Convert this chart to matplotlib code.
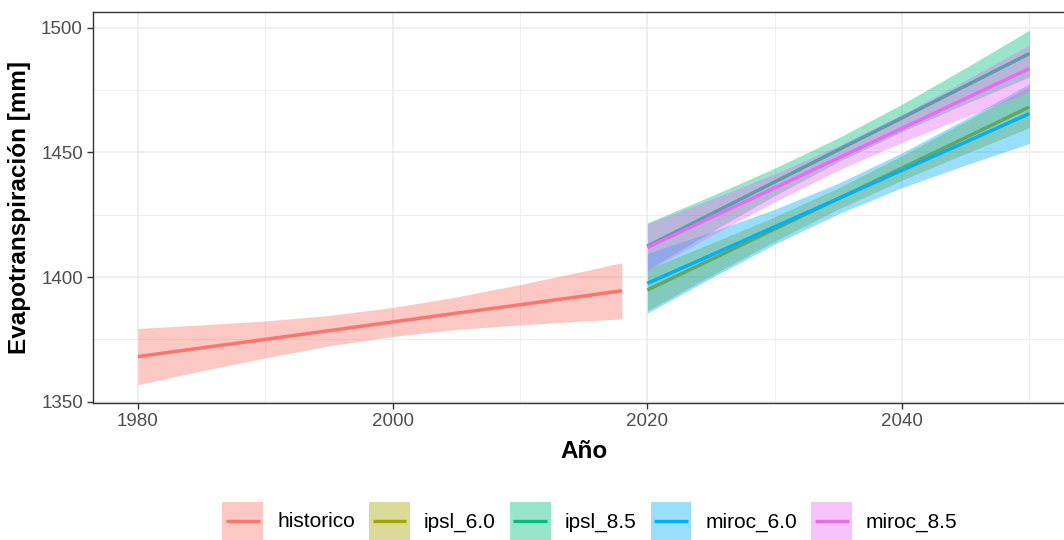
import matplotlib
matplotlib.use("Agg")
import matplotlib.pyplot as plt
from matplotlib.patches import Patch, Rectangle
from matplotlib.lines import Line2D
from matplotlib.legend_handler import HandlerBase
from matplotlib.ticker import MultipleLocator

plt.rcParams['font.family'] = ['Liberation Sans', 'DejaVu Sans']

# data (fit line and confidence band of each series)
years_hist = [1980, 1985, 1990, 1995, 2000, 2005, 2010, 2015, 2018]
hist_fit = [1368.1, 1371.6, 1375.0, 1378.5, 1382.0, 1385.5, 1388.9, 1392.4, 1394.5]
hist_lo = [1356.8, 1362.4, 1367.6, 1372.4, 1376.2, 1379.0, 1380.8, 1382.4, 1383.2]
hist_hi = [1379.4, 1380.8, 1382.4, 1384.6, 1387.8, 1392.0, 1397.0, 1402.4, 1405.8]

years_fut = [2020, 2025, 2030, 2035, 2040, 2045, 2050]
ipsl60_fit = [1394.8, 1407.0, 1419.3, 1431.5, 1443.8, 1456.0, 1468.3]
ipsl60_lo = [1386.5, 1400.6, 1414.4, 1427.3, 1438.9, 1449.6, 1460.0]
ipsl60_hi = [1403.1, 1413.5, 1424.2, 1435.8, 1448.7, 1462.5, 1476.6]

ipsl85_fit = [1412.4, 1425.3, 1438.2, 1451.1, 1463.9, 1476.8, 1489.7]
ipsl85_lo = [1403.0, 1418.1, 1432.7, 1446.3, 1458.4, 1469.6, 1480.3]
ipsl85_hi = [1421.8, 1432.5, 1443.7, 1455.9, 1469.4, 1484.0, 1499.1]

miroc60_fit = [1397.5, 1408.8, 1420.2, 1431.5, 1442.9, 1454.2, 1465.6]
miroc60_lo = [1385.5, 1399.6, 1413.2, 1425.4, 1435.9, 1445.0, 1453.6]
miroc60_hi = [1409.5, 1418.1, 1427.2, 1437.7, 1449.9, 1463.5, 1477.6]

miroc85_fit = [1411.9, 1423.9, 1435.8, 1447.8, 1459.7, 1471.7, 1483.7]
miroc85_lo = [1402.4, 1416.6, 1430.2, 1442.9, 1454.1, 1464.4, 1474.2]
miroc85_hi = [1421.4, 1431.2, 1441.4, 1452.7, 1465.3, 1479.0, 1493.2]

labels = ["historico", "ipsl_6.0", "ipsl_8.5", "miroc_6.0", "miroc_8.5"]
colors = ["#F8766D", "#A3A500", "#00BF7D", "#00B0F6", "#E76BF3"]

series = [
    (years_hist, hist_fit, hist_lo, hist_hi),
    (years_fut, ipsl60_fit, ipsl60_lo, ipsl60_hi),
    (years_fut, ipsl85_fit, ipsl85_lo, ipsl85_hi),
    (years_fut, miroc60_fit, miroc60_lo, miroc60_hi),
    (years_fut, miroc85_fit, miroc85_lo, miroc85_hi),
]


class KeyHandler(HandlerBase):
    # filled key box with a short line across its middle
    def create_artists(self, legend, orig_handle, xdescent, ydescent,
                       width, height, fontsize, trans):
        c = orig_handle.get_facecolor()[:3]
        box = Rectangle((-xdescent, -ydescent), width, height, facecolor=c,
                        alpha=0.4, lw=0, transform=trans)
        y = -ydescent + height / 2
        line = Line2D([-xdescent + 2.5, -xdescent + width - 2.5], [y, y],
                      color=c, lw=2.4, solid_capstyle='butt', transform=trans)
        return [box, line]


fig = plt.figure(figsize=(10.64, 5.4), dpi=100)
ax = fig.add_axes([93.3 / 1064, 1 - 402.7 / 540, (1074 - 93.3) / 1064, (402.7 - 11.7) / 540])

# ribbon then line, group by group (like geom_smooth)
for (x, fit, lo, hi), c in zip(series, colors):
    ax.fill_between(x, lo, hi, color=c, alpha=0.4, lw=0, zorder=2)
    ax.plot(x, fit, color=c, lw=2.5, zorder=2, solid_capstyle='butt')

ax.set_xlim(1976.5, 2053.5)
ax.set_ylim(1349.6, 1506.5)
ax.xaxis.set_major_locator(MultipleLocator(20))
ax.xaxis.set_minor_locator(MultipleLocator(10))
ax.yaxis.set_major_locator(MultipleLocator(50))
ax.yaxis.set_minor_locator(MultipleLocator(25))

ax.grid(which='major', color='#EBEBEB', lw=1.1, zorder=0)
ax.grid(which='minor', color='#EBEBEB', lw=0.6, zorder=0)
ax.set_axisbelow(True)

for s in ax.spines.values():
    s.set_color('#333333')
    s.set_linewidth(1.0)

ax.tick_params(which='major', length=4.5, width=1.0, color='#333333',
               labelsize=13.5, labelcolor='#4D4D4D', pad=3)
ax.tick_params(which='minor', length=0)

ax.set_xlabel("Año", fontsize=17.5, fontweight='bold', labelpad=7)
ax.set_ylabel("Evapotranspiración [mm]", fontsize=17.5, fontweight='bold', labelpad=7)

handles = [Patch(facecolor=c) for c in colors]
fig.legend(handles, labels, loc='center', ncol=5, frameon=False,
           bbox_to_anchor=(590 / 1064, 1 - 521 / 540),
           handler_map={Patch: KeyHandler()},
           fontsize=15, handlelength=1.95, handleheight=2.5,
           handletextpad=0.67, columnspacing=0.69, borderpad=0)

fig.savefig("out.png", dpi=100)
